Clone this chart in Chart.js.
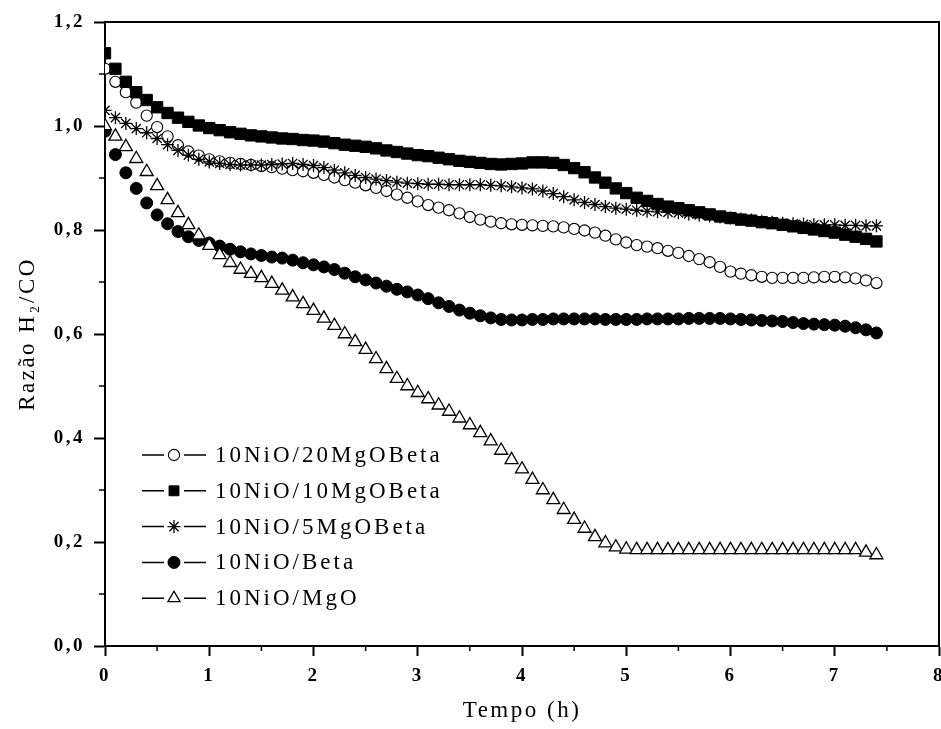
<!DOCTYPE html>
<html>
<head>
<meta charset="utf-8">
<script src="https://cdn.jsdelivr.net/npm/chart.js@4.4.0/dist/chart.umd.min.js"></script>
<style>
  html, body { margin: 0; padding: 0; background: #fff; }
  canvas { display: block; }
</style>
</head>
<body>
<canvas id="razao" width="941" height="729"></canvas>
<script>
// tempo (h), one reading every ~0.1 h
const tempo = [
  0.0, 0.1, 0.2, 0.3, 0.4, 0.5, 0.6, 0.7, 0.8, 0.9,
  1.0, 1.1, 1.2, 1.3, 1.4, 1.5, 1.6, 1.7, 1.8, 1.9,
  2.0, 2.1, 2.2, 2.3, 2.4, 2.5, 2.6, 2.7, 2.8, 2.9,
  3.0, 3.1, 3.2, 3.3, 3.4, 3.5, 3.6, 3.7, 3.8, 3.9,
  4.0, 4.1, 4.2, 4.3, 4.4, 4.5, 4.6, 4.7, 4.8, 4.9,
  5.0, 5.1, 5.2, 5.3, 5.4, 5.5, 5.6, 5.7, 5.8, 5.9,
  6.0, 6.1, 6.2, 6.3, 6.4, 6.5, 6.6, 6.7, 6.8, 6.9,
  7.0, 7.1, 7.2, 7.3, 7.4
];

// razao H2/CO
const ni20MgBeta = [
  1.110, 1.085, 1.065, 1.045, 1.020, 0.998, 0.980, 0.963, 0.951, 0.943,
  0.936, 0.932, 0.929, 0.927, 0.925, 0.923, 0.921, 0.918, 0.915, 0.913,
  0.910, 0.906, 0.901, 0.896, 0.891, 0.886, 0.881, 0.875, 0.868, 0.862,
  0.855, 0.848, 0.843, 0.838, 0.832, 0.825, 0.820, 0.816, 0.813, 0.811,
  0.810, 0.809, 0.808, 0.807, 0.805, 0.802, 0.799, 0.795, 0.789, 0.782,
  0.776, 0.771, 0.768, 0.765, 0.760, 0.756, 0.750, 0.744, 0.738, 0.729,
  0.720, 0.716, 0.713, 0.710, 0.708, 0.708, 0.708, 0.708, 0.709, 0.710,
  0.710, 0.709, 0.707, 0.703, 0.698
];
const ni10MgBeta = [
  1.140, 1.110, 1.085, 1.065, 1.050, 1.036, 1.025, 1.016, 1.008, 1.001,
  0.996, 0.992, 0.988, 0.985, 0.982, 0.980, 0.978, 0.976, 0.975, 0.973,
  0.972, 0.970, 0.967, 0.964, 0.962, 0.960, 0.957, 0.953, 0.950, 0.947,
  0.944, 0.942, 0.939, 0.936, 0.933, 0.931, 0.929, 0.927, 0.926, 0.927,
  0.928, 0.930, 0.930, 0.929, 0.925, 0.919, 0.911, 0.901, 0.891, 0.880,
  0.871, 0.862, 0.856, 0.850, 0.845, 0.842, 0.838, 0.834, 0.830, 0.826,
  0.823, 0.820, 0.818, 0.815, 0.813, 0.810, 0.807, 0.804, 0.801, 0.798,
  0.795, 0.791, 0.787, 0.783, 0.778
];
const ni5MgBeta = [
  1.030, 1.016, 1.005, 0.995, 0.987, 0.976, 0.964, 0.953, 0.944, 0.936,
  0.931, 0.928, 0.926, 0.925, 0.925, 0.925, 0.926, 0.927, 0.928, 0.926,
  0.924, 0.920, 0.915, 0.910, 0.905, 0.901, 0.898, 0.895, 0.892, 0.890,
  0.889, 0.888, 0.888, 0.887, 0.887, 0.887, 0.887, 0.886, 0.885, 0.883,
  0.881, 0.879, 0.875, 0.870, 0.864, 0.858, 0.853, 0.849, 0.845, 0.842,
  0.840, 0.838, 0.836, 0.835, 0.834, 0.833, 0.831, 0.829, 0.827, 0.825,
  0.823, 0.821, 0.819, 0.817, 0.815, 0.813, 0.812, 0.811, 0.810, 0.810,
  0.810, 0.809, 0.809, 0.808, 0.808
];
const niBeta = [
  0.990, 0.945, 0.910, 0.880, 0.852, 0.829, 0.812, 0.797, 0.787, 0.780,
  0.775, 0.769, 0.763, 0.758, 0.754, 0.751, 0.748, 0.746, 0.742, 0.737,
  0.733, 0.729, 0.724, 0.717, 0.710, 0.704, 0.698, 0.692, 0.686, 0.681,
  0.675, 0.668, 0.660, 0.653, 0.646, 0.640, 0.635, 0.631, 0.628, 0.627,
  0.627, 0.628, 0.628, 0.629, 0.629, 0.629, 0.629, 0.629, 0.628, 0.628,
  0.628, 0.628, 0.629, 0.629, 0.629, 0.629, 0.630, 0.630, 0.630, 0.630,
  0.629, 0.628, 0.627, 0.626, 0.625, 0.624, 0.622, 0.620, 0.619, 0.618,
  0.617, 0.615, 0.612, 0.608, 0.602
];
const niMgO = [
  1.000, 0.980, 0.960, 0.937, 0.912, 0.885, 0.858, 0.833, 0.810, 0.790,
  0.770, 0.752, 0.737, 0.724, 0.716, 0.708, 0.697, 0.684, 0.671, 0.658,
  0.645, 0.630, 0.616, 0.600, 0.585, 0.570, 0.552, 0.533, 0.514, 0.500,
  0.487, 0.475, 0.463, 0.451, 0.438, 0.425, 0.410, 0.394, 0.376, 0.358,
  0.340, 0.320, 0.300, 0.281, 0.262, 0.243, 0.226, 0.210, 0.198, 0.190,
  0.186, 0.185, 0.185, 0.185, 0.185, 0.185, 0.185, 0.185, 0.185, 0.185,
  0.185, 0.185, 0.185, 0.185, 0.185, 0.185, 0.185, 0.185, 0.185, 0.185,
  0.185, 0.185, 0.185, 0.180, 0.175
];

const seriesNames = ['10NiO/20MgOBeta', '10NiO/10MgOBeta', '10NiO/5MgOBeta', '10NiO/Beta', '10NiO/MgO'];
const seriesValues = [ni20MgBeta, ni10MgBeta, ni5MgBeta, niBeta, niMgO];

const markers = [
  { pointStyle: 'circle',   pointRadius: 5.6, backgroundColor: '#fff', borderWidth: 1.1 },
  { pointStyle: 'rect',     pointRadius: 8,   backgroundColor: '#000', borderWidth: 1 },
  { pointStyle: 'star',     pointRadius: 6.5, backgroundColor: '#000', borderWidth: 1.3 },
  { pointStyle: 'circle',   pointRadius: 6,   backgroundColor: '#000', borderWidth: 1 },
  { pointStyle: 'triangle', pointRadius: 7.5, backgroundColor: '#fff', borderWidth: 1.3 }
];

const serif = '"Liberation Serif", "Times New Roman", serif';
const fmt = v => Number(v).toFixed(1).replace('.', ',');
const plotRight = 939;   // x = 8 sits on the page edge, its label is cut like the original

// white page + wide glyph spacing like the original export
const paper = {
  id: 'paper',
  afterLayout(chart) {
    const x = chart.scales.x, area = chart.chartArea;
    area.right = plotRight;
    area.width = plotRight - area.left;
    x.right = plotRight;
    x.width = plotRight - x.left;
    x.configure();
  },
  beforeDraw(chart) {
    const ctx = chart.ctx;
    ctx.save();
    ctx.fillStyle = '#fff';
    ctx.fillRect(0, 0, chart.width, chart.height);
    ctx.restore();
    ctx.letterSpacing = '2.5px';
  }
};

// top/right frame and minor ticks
const frame = {
  id: 'frame',
  afterDraw(chart) {
    const { ctx, chartArea: a, scales: { x, y } } = chart;
    ctx.save();
    ctx.strokeStyle = '#000';
    ctx.lineWidth = 2;
    ctx.beginPath();
    ctx.moveTo(a.left, a.top);
    ctx.lineTo(a.right, a.top);
    ctx.lineTo(a.right, a.bottom);
    ctx.stroke();
    ctx.lineWidth = 1.5;
    ctx.beginPath();
    for (let v = 0.5; v < 8; v += 1) {
      const px = x.getPixelForValue(v);
      ctx.moveTo(px, a.bottom);
      ctx.lineTo(px, a.bottom + 5);
    }
    for (let v = 0.1; v < 1.2; v += 0.2) {
      const py = y.getPixelForValue(v);
      ctx.moveTo(a.left, py);
      ctx.lineTo(a.left - 6, py);
    }
    ctx.stroke();
    ctx.restore();
  }
};

// legend drawn as  —o—  label, inside the plot
const legendBox = {
  id: 'legendBox',
  afterDraw(chart) {
    const ctx = chart.ctx;
    ctx.save();
    ctx.letterSpacing = '3px';
    ctx.font = '23px ' + serif;
    ctx.textBaseline = 'middle';
    chart.data.datasets.forEach((ds, i) => {
      const yy = 455 + i * 35.8;
      ctx.strokeStyle = '#000';
      ctx.lineWidth = 1.5;
      ctx.beginPath();
      ctx.moveTo(142, yy); ctx.lineTo(164, yy);
      ctx.moveTo(184, yy); ctx.lineTo(206, yy);
      ctx.stroke();
      ctx.fillStyle = ds.backgroundColor;
      ctx.strokeStyle = ds.borderColor;
      ctx.lineWidth = ds.borderWidth;
      Chart.helpers.drawPoint(ctx, {
        pointStyle: ds.pointStyle, radius: Math.min(ds.pointRadius, 7), rotation: 0, borderWidth: ds.borderWidth
      }, 174, yy);
      ctx.fillStyle = '#000';
      ctx.fillText(ds.label, 215, yy + 1);
    });
    ctx.restore();
  }
};

const datasets = seriesNames.map((name, i) => ({
  label: name,
  data: tempo.map((t, j) => ({ x: t, y: seriesValues[i][j] })),
  showLine: false,
  borderColor: '#000',
  pointHoverRadius: markers[i].pointRadius,
  order: seriesNames.length - i,
  ...markers[i]
}));

new Chart(document.getElementById('razao'), {
  type: 'scatter',
  data: { datasets },
  options: {
    responsive: false,
    animation: false,
    events: [],
    layout: { padding: { top: 22, right: 2, left: 0, bottom: 0 } },
    plugins: { legend: { display: false }, tooltip: { enabled: false } },
    scales: {
      x: {
        type: 'linear',
        min: 0, max: 8,
        afterFit(s) { s.height = 83; },
        border: { display: true, color: '#000', width: 2 },
        grid: { drawOnChartArea: false, drawTicks: true, tickLength: 10, tickColor: '#000', tickWidth: 2 },
        ticks: {
          stepSize: 1, padding: 9, color: '#000',
          font: { family: serif, size: 19, weight: 'bold' },
          callback: v => String(v)
        },
        title: {
          display: true, text: 'Tempo (h)', color: '#000',
          font: { family: serif, size: 23 },
          padding: { top: 0, bottom: 4 }
        }
      },
      y: {
        min: 0, max: 1.2,
        afterFit(s) { s.width = 105; s.paddingTop = 0; s.paddingBottom = 0; },
        border: { display: true, color: '#000', width: 2 },
        grid: { drawOnChartArea: false, drawTicks: true, tickLength: 11, tickColor: '#000', tickWidth: 2 },
        ticks: {
          stepSize: 0.2, padding: 9, color: '#000',
          font: { family: serif, size: 19, weight: 'bold' },
          callback: v => fmt(v)
        },
        title: {
          display: true, text: 'Razão H₂/CO', color: '#000',
          font: { family: serif, size: 23 },
          padding: { top: 14, bottom: 0 }
        }
      }
    }
  },
  plugins: [paper, frame, legendBox]
});
</script>
</body>
</html>
